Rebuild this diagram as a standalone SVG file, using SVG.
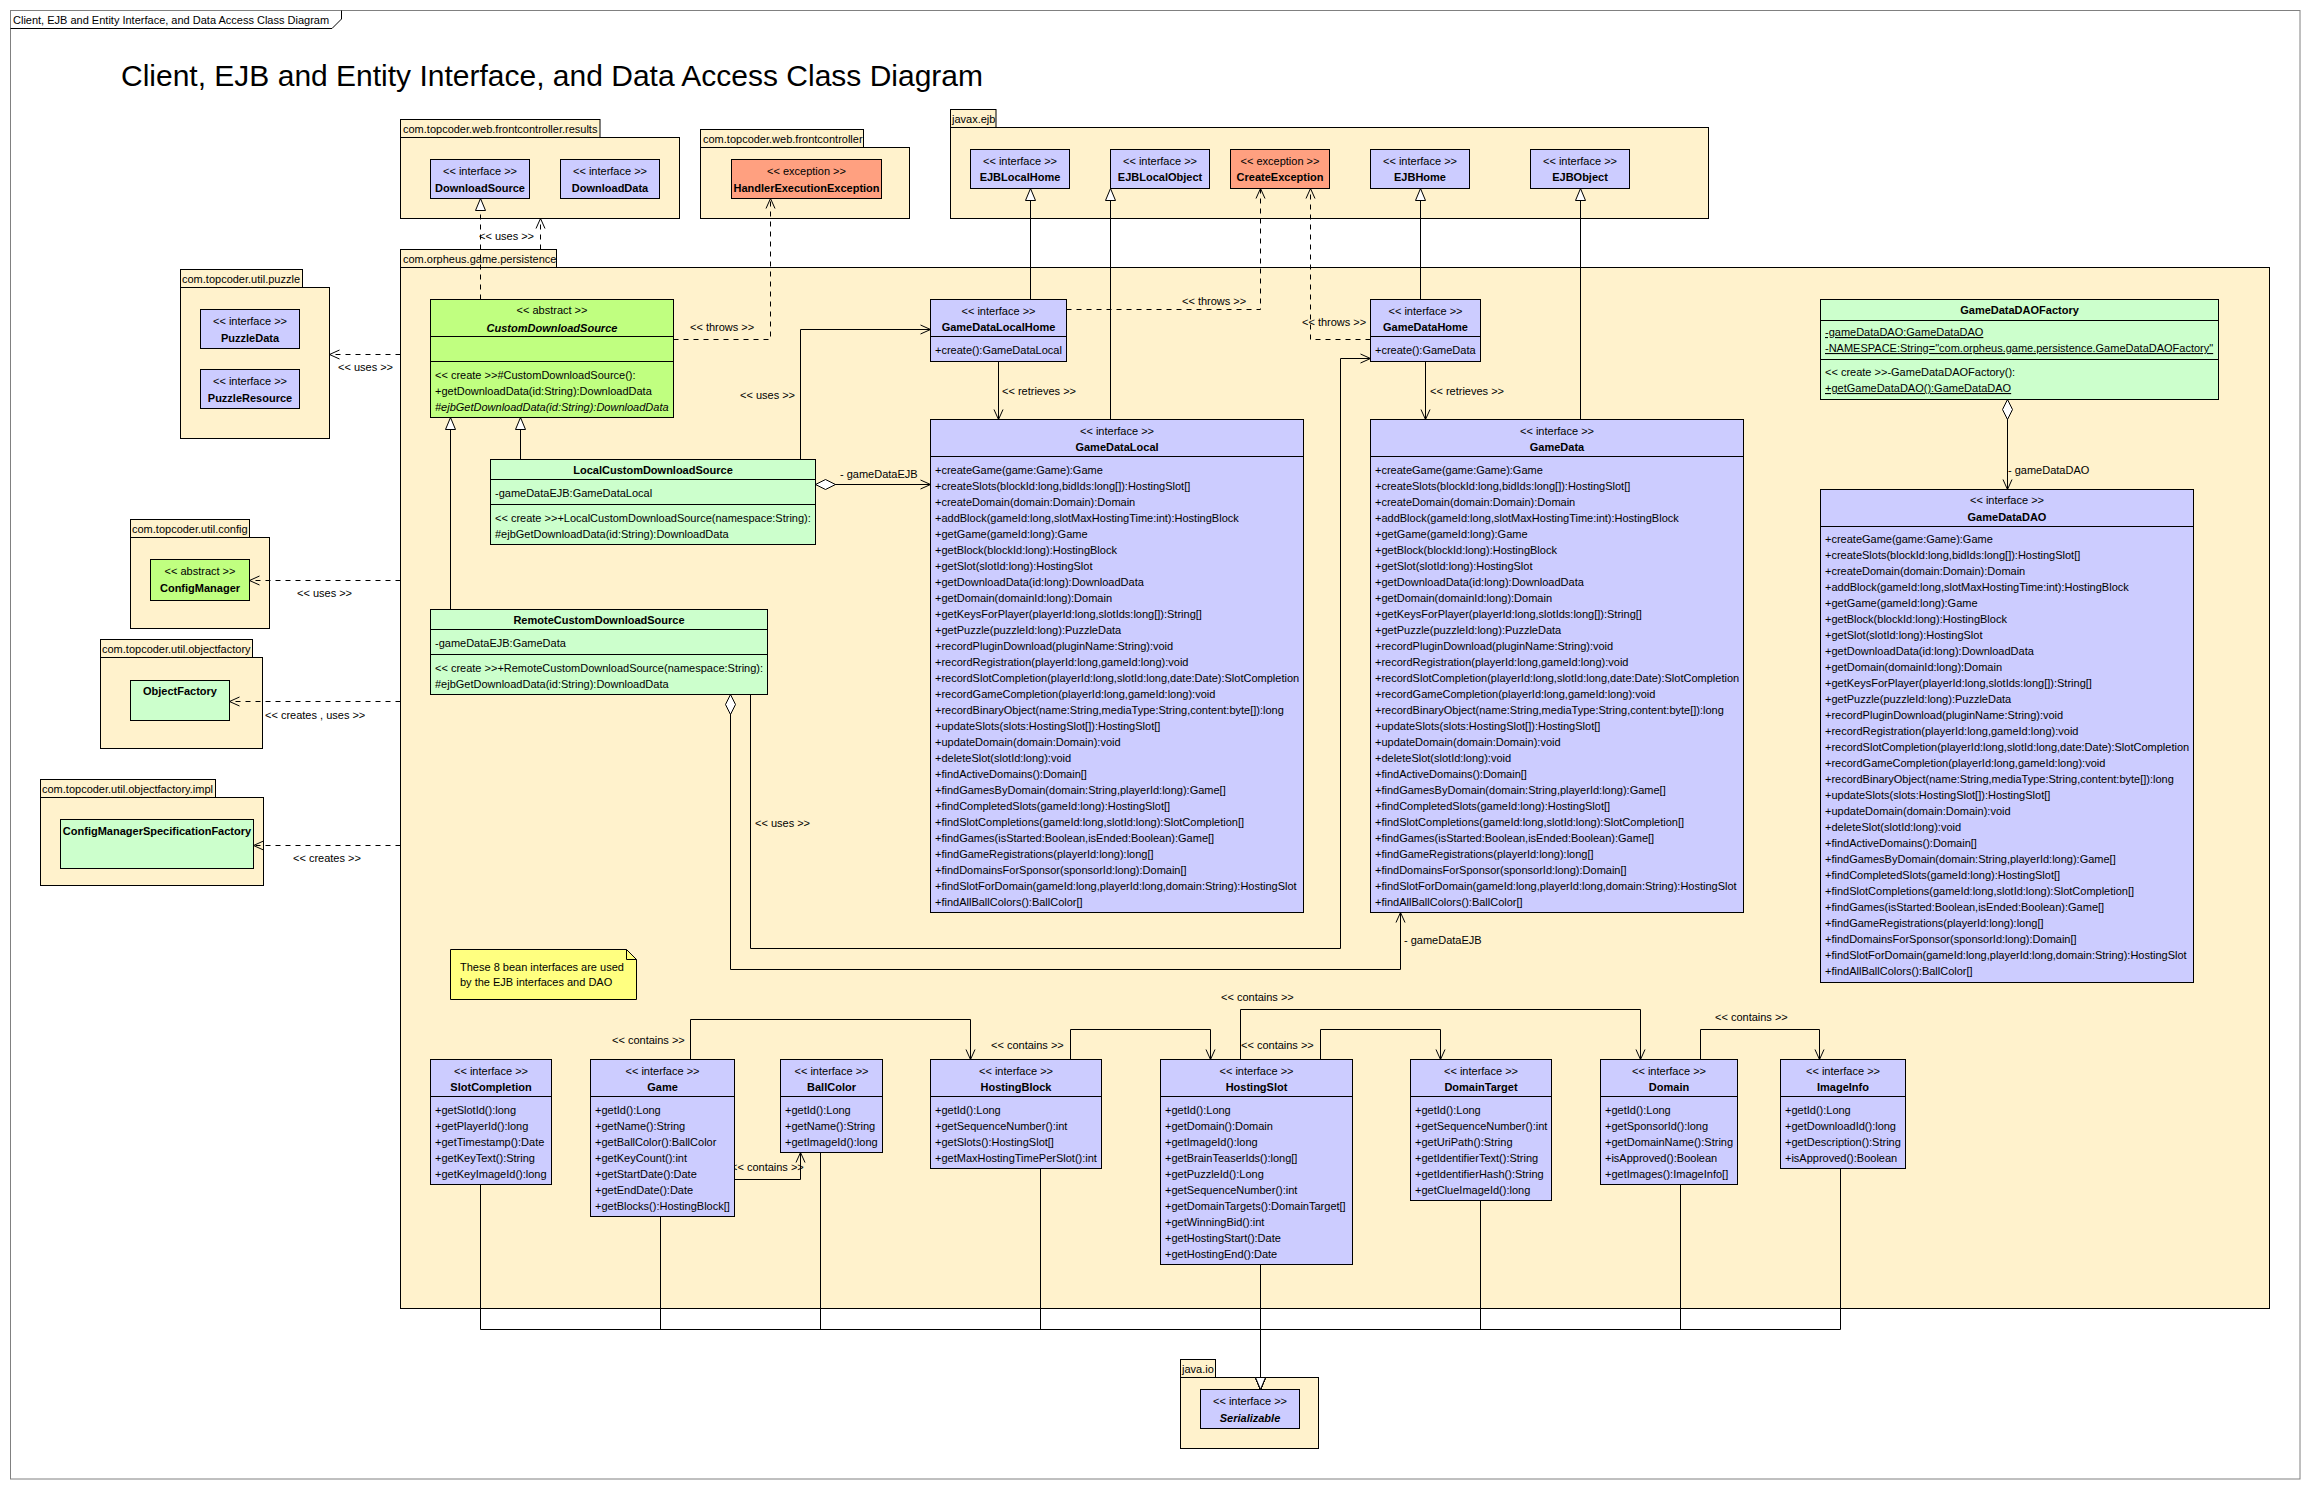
<svg xmlns="http://www.w3.org/2000/svg" width="2310" height="1489" viewBox="0 0 2310 1489">
<defs>
<style>
.pkg{fill:#FFF2CC;stroke:#000;stroke-width:1}
.if{fill:#CCCCFF;stroke:#000;stroke-width:1}
.ab{fill:#C0FF80;stroke:#000;stroke-width:1}
.cl{fill:#CCFFCC;stroke:#000;stroke-width:1}
.ex{fill:#FFA080;stroke:#000;stroke-width:1}
.nt{fill:#FFFF80;stroke:#000;stroke-width:1}
.dv{stroke:#000;stroke-width:1;fill:none}
text{font-family:"Liberation Sans",Arial,Helvetica,sans-serif;font-size:11px;fill:#000}
.c{text-anchor:middle}
.b{font-weight:bold}
.i{font-style:italic}
.u{text-decoration:underline}
.ttl{font-size:29px}
.ln{fill:none;stroke:#000;stroke-width:1}
.dsh{stroke-dasharray:5 5}
.op{marker-end:url(#open)}
.gen{marker-end:url(#tri)}
.agg{marker-start:url(#dia)}
</style>
<marker id="open" markerWidth="12" markerHeight="12" refX="11" refY="6" orient="auto" markerUnits="userSpaceOnUse"><path d="M1,1.5 L11,6 L1,10.5" fill="none" stroke="#000" stroke-width="1"/></marker>
<marker id="tri" markerWidth="14" markerHeight="12" refX="13" refY="6" orient="auto" markerUnits="userSpaceOnUse"><path d="M1,1 L13,6 L1,11 Z" fill="#fff" stroke="#000" stroke-width="1"/></marker>
<marker id="dia" markerWidth="22" markerHeight="12" refX="1" refY="6" orient="auto" markerUnits="userSpaceOnUse"><path d="M1,6 L11,1 L21,6 L11,11 Z" fill="#fff" stroke="#000" stroke-width="1"/></marker>
</defs>
<rect x="0" y="0" width="2310" height="1489" fill="#fff"/>
<g id="frame">
<rect x="10.5" y="10.5" width="2289.5" height="1468.5" fill="none" stroke="#808080" stroke-width="1"/>
<path d="M10.5,28.5 H332 L341.5,19 V10.5" fill="none" stroke="#000" stroke-width="1"/>
<text x="13" y="24">Client, EJB and Entity Interface, and Data Access Class Diagram</text>
<text class="ttl" x="121" y="86" textLength="862" lengthAdjust="spacingAndGlyphs">Client, EJB and Entity Interface, and Data Access Class Diagram</text>
</g>
<g id="packages">
<g id="pkg-results"><rect class="pkg" x="400.5" y="119.5" width="199.5" height="18"/><rect class="pkg" x="400.5" y="137.5" width="279" height="81"/><text x="403" y="133">com.topcoder.web.frontcontroller.results</text></g>
<g id="pkg-frontcontroller"><rect class="pkg" x="700.5" y="129.5" width="163" height="18"/><rect class="pkg" x="700.5" y="147.5" width="209" height="71"/><text x="703" y="143">com.topcoder.web.frontcontroller</text></g>
<g id="pkg-ejb"><rect class="pkg" x="950.5" y="109.5" width="45.5" height="18"/><rect class="pkg" x="950.5" y="127.5" width="758" height="91"/><text x="952" y="123">javax.ejb</text></g>
<g id="pkg-persistence"><rect class="pkg" x="400.5" y="249.5" width="156" height="18"/><rect class="pkg" x="400.5" y="267.5" width="1869" height="1041"/><text x="403" y="263">com.orpheus.game.persistence</text></g>
<g id="pkg-puzzle"><rect class="pkg" x="180.5" y="269.5" width="122" height="18"/><rect class="pkg" x="180.5" y="287.5" width="149" height="151"/><text x="182" y="283">com.topcoder.util.puzzle</text></g>
<g id="pkg-config"><rect class="pkg" x="130.5" y="519.5" width="119" height="18"/><rect class="pkg" x="130.5" y="537.5" width="139" height="91"/><text x="132" y="533">com.topcoder.util.config</text></g>
<g id="pkg-objectfactory"><rect class="pkg" x="100.5" y="639.5" width="152" height="18"/><rect class="pkg" x="100.5" y="657.5" width="162" height="91"/><text x="102" y="653">com.topcoder.util.objectfactory</text></g>
<g id="pkg-impl"><rect class="pkg" x="40.5" y="779.5" width="175" height="18"/><rect class="pkg" x="40.5" y="797.5" width="223" height="88"/><text x="42" y="793">com.topcoder.util.objectfactory.impl</text></g>
<g id="pkg-javaio"><rect class="pkg" x="1180.5" y="1359.5" width="35" height="18"/><rect class="pkg" x="1180.5" y="1377.5" width="138" height="71"/><text x="1182" y="1373">java.io</text></g>
</g>
<g id="connectors">
<path class="ln dsh gen" d="M480.5,299.5 V198.5"/>
<path class="ln dsh op" d="M540.5,249.5 V218.5"/>
<text x="479" y="240">&lt;&lt; uses &gt;&gt;</text>
<path class="ln dsh op" d="M673.5,339.5 H770.5 V198.5"/>
<text x="690" y="331">&lt;&lt; throws &gt;&gt;</text>
<path class="ln dsh op" d="M400.5,354.5 H329.5"/>
<text x="338" y="371">&lt;&lt; uses &gt;&gt;</text>
<path class="ln dsh op" d="M400.5,580.5 H249.5"/>
<text x="297" y="597">&lt;&lt; uses &gt;&gt;</text>
<path class="ln dsh op" d="M400.5,701.5 H229.5"/>
<text x="265" y="719">&lt;&lt; creates , uses &gt;&gt;</text>
<path class="ln dsh op" d="M400.5,845.5 H253.5"/>
<text x="293" y="862">&lt;&lt; creates &gt;&gt;</text>
<path class="ln gen" d="M520.5,459.5 V417.5"/>
<path class="ln gen" d="M450.5,609.5 V417.5"/>
<path class="ln op" d="M800.5,459.5 V329.5 H930.5"/>
<text x="740" y="399">&lt;&lt; uses &gt;&gt;</text>
<path class="ln agg op" d="M815.5,484.5 H930.5"/>
<text x="840" y="478">- gameDataEJB</text>
<path class="ln op" d="M750.5,694.5 V948.5 H1340.5 V358.5 H1370.5"/>
<text x="755" y="827">&lt;&lt; uses &gt;&gt;</text>
<path class="ln agg op" d="M730.5,694.5 V969.5 H1400.5 V912.5"/>
<text x="1404" y="944">- gameDataEJB</text>
<path class="ln gen" d="M1030.5,299.5 V188.5"/>
<path class="ln gen" d="M1110.5,419.5 V188.5"/>
<path class="ln gen" d="M1420.5,299.5 V188.5"/>
<path class="ln gen" d="M1580.5,419.5 V188.5"/>
<path class="ln dsh op" d="M1066.5,309.5 H1260.5 V188.5"/>
<text x="1182" y="305">&lt;&lt; throws &gt;&gt;</text>
<path class="ln dsh op" d="M1370.5,339.5 H1310.5 V188.5"/>
<text x="1302" y="326">&lt;&lt; throws &gt;&gt;</text>
<path class="ln op" d="M998.5,361.5 V419.5"/>
<text x="1002" y="395">&lt;&lt; retrieves &gt;&gt;</text>
<path class="ln op" d="M1425.5,361.5 V419.5"/>
<text x="1430" y="395">&lt;&lt; retrieves &gt;&gt;</text>
<path class="ln agg op" d="M2007.5,399.5 V489.5"/>
<text x="2008" y="474">- gameDataDAO</text>
<path class="ln op" d="M734.5,1179.5 H800.5 V1152.5"/>
<text x="731" y="1171">&lt;&lt; contains &gt;&gt;</text>
<path class="ln op" d="M690.5,1059.5 V1019.5 H970.5 V1059.5"/>
<text x="612" y="1044">&lt;&lt; contains &gt;&gt;</text>
<path class="ln op" d="M1070.5,1059.5 V1029.5 H1210.5 V1059.5"/>
<text x="991" y="1049">&lt;&lt; contains &gt;&gt;</text>
<path class="ln op" d="M1320.5,1059.5 V1029.5 H1440.5 V1059.5"/>
<text x="1241" y="1049">&lt;&lt; contains &gt;&gt;</text>
<path class="ln op" d="M1240.5,1059.5 V1009.5 H1640.5 V1059.5"/>
<text x="1221" y="1001">&lt;&lt; contains &gt;&gt;</text>
<path class="ln op" d="M1700.5,1059.5 V1029.5 H1819.5 V1059.5"/>
<text x="1715" y="1021">&lt;&lt; contains &gt;&gt;</text>
<path class="ln gen" d="M480.5,1184.5 V1329.5 H1260.5 V1389.5"/>
<path class="ln gen" d="M660.5,1216.5 V1329.5 H1260.5 V1389.5"/>
<path class="ln gen" d="M820.5,1152.5 V1329.5 H1260.5 V1389.5"/>
<path class="ln gen" d="M1040.5,1168.5 V1329.5 H1260.5 V1389.5"/>
<path class="ln gen" d="M1260.5,1264.5 V1389.5"/>
<path class="ln gen" d="M1480.5,1200.5 V1329.5 H1260.5 V1389.5"/>
<path class="ln gen" d="M1680.5,1184.5 V1329.5 H1260.5 V1389.5"/>
<path class="ln gen" d="M1840.5,1168.5 V1329.5 H1260.5 V1389.5"/>
</g>
<g id="DownloadSource"><rect class="if" x="430.5" y="159.5" width="99" height="39"/><text class="c" x="480" y="174.5">&lt;&lt; interface &gt;&gt;</text><text class="c b" x="480" y="191.5">DownloadSource</text></g>
<g id="DownloadData"><rect class="if" x="560.5" y="159.5" width="99" height="39"/><text class="c" x="610" y="174.5">&lt;&lt; interface &gt;&gt;</text><text class="c b" x="610" y="191.5">DownloadData</text></g>
<g id="HandlerExecutionException"><rect class="ex" x="731.5" y="159.5" width="150" height="39"/><text class="c" x="806.5" y="174.5">&lt;&lt; exception &gt;&gt;</text><text class="c b" x="806.5" y="191.5">HandlerExecutionException</text></g>
<g id="EJBLocalHome"><rect class="if" x="970.5" y="149.5" width="99" height="39"/><text class="c" x="1020" y="164.5">&lt;&lt; interface &gt;&gt;</text><text class="c b" x="1020" y="181">EJBLocalHome</text></g>
<g id="EJBLocalObject"><rect class="if" x="1110.5" y="149.5" width="99" height="39"/><text class="c" x="1160" y="164.5">&lt;&lt; interface &gt;&gt;</text><text class="c b" x="1160" y="181">EJBLocalObject</text></g>
<g id="CreateException"><rect class="ex" x="1230.5" y="149.5" width="99" height="39"/><text class="c" x="1280" y="164.5">&lt;&lt; exception &gt;&gt;</text><text class="c b" x="1280" y="181">CreateException</text></g>
<g id="EJBHome"><rect class="if" x="1370.5" y="149.5" width="99" height="39"/><text class="c" x="1420" y="164.5">&lt;&lt; interface &gt;&gt;</text><text class="c b" x="1420" y="181">EJBHome</text></g>
<g id="EJBObject"><rect class="if" x="1530.5" y="149.5" width="99" height="39"/><text class="c" x="1580" y="164.5">&lt;&lt; interface &gt;&gt;</text><text class="c b" x="1580" y="181">EJBObject</text></g>
<g id="PuzzleData"><rect class="if" x="200.5" y="309.5" width="99" height="39"/><text class="c" x="250" y="324.5">&lt;&lt; interface &gt;&gt;</text><text class="c b" x="250" y="341.5">PuzzleData</text></g>
<g id="PuzzleResource"><rect class="if" x="200.5" y="369.5" width="99" height="39"/><text class="c" x="250" y="384.5">&lt;&lt; interface &gt;&gt;</text><text class="c b" x="250" y="401.5">PuzzleResource</text></g>
<g id="ConfigManager"><rect class="ab" x="150.5" y="559.5" width="99" height="41"/><text class="c" x="200" y="574.5">&lt;&lt; abstract &gt;&gt;</text><text class="c b" x="200" y="591.5">ConfigManager</text></g>
<g id="ObjectFactory"><rect class="cl" x="130.5" y="680.5" width="99" height="40"/><text class="c b" x="180" y="694.5">ObjectFactory</text></g>
<g id="ConfigManagerSpecificationFactory"><rect class="cl" x="60.5" y="819.5" width="193" height="49"/><text class="c b" x="157" y="834.5">ConfigManagerSpecificationFactory</text></g>
<g id="CustomDownloadSource"><rect class="ab" x="430.5" y="299.5" width="243" height="118"/><path class="dv" d="M430.5,336.5 H673.5 M430.5,361.5 H673.5"/><text class="c" x="552" y="314">&lt;&lt; abstract &gt;&gt;</text><text class="c b i" x="552" y="331.5">CustomDownloadSource</text><text x="435" y="378.5">&lt;&lt; create &gt;&gt;#CustomDownloadSource():</text><text x="435" y="394.5">+getDownloadData(id:String):DownloadData</text><text class="i" x="435" y="410.5">#ejbGetDownloadData(id:String):DownloadData</text></g>
<g id="LocalCustomDownloadSource"><rect class="cl" x="490.5" y="459.5" width="325" height="85"/><path class="dv" d="M490.5,479.5 H815.5 M490.5,504.5 H815.5"/><text class="c b" x="653" y="474">LocalCustomDownloadSource</text><text x="495" y="496.5">-gameDataEJB:GameDataLocal</text><text x="495" y="521.5">&lt;&lt; create &gt;&gt;+LocalCustomDownloadSource(namespace:String):</text><text x="495" y="537.5">#ejbGetDownloadData(id:String):DownloadData</text></g>
<g id="RemoteCustomDownloadSource"><rect class="cl" x="430.5" y="609.5" width="337" height="85"/><path class="dv" d="M430.5,629.5 H767.5 M430.5,654.5 H767.5"/><text class="c b" x="599" y="624">RemoteCustomDownloadSource</text><text x="435" y="646.5">-gameDataEJB:GameData</text><text x="435" y="671.5">&lt;&lt; create &gt;&gt;+RemoteCustomDownloadSource(namespace:String):</text><text x="435" y="687.5">#ejbGetDownloadData(id:String):DownloadData</text></g>
<g id="GameDataLocalHome"><rect class="if" x="930.5" y="299.5" width="136" height="62"/><path class="dv" d="M930.5,336.5 H1066.5"/><text class="c" x="998.5" y="314.5">&lt;&lt; interface &gt;&gt;</text><text class="c b" x="998.5" y="331">GameDataLocalHome</text><text x="935" y="353.5">+create():GameDataLocal</text></g>
<g id="GameDataHome"><rect class="if" x="1370.5" y="299.5" width="110" height="62"/><path class="dv" d="M1370.5,336.5 H1480.5"/><text class="c" x="1425.5" y="314.5">&lt;&lt; interface &gt;&gt;</text><text class="c b" x="1425.5" y="331">GameDataHome</text><text x="1375" y="353.5">+create():GameData</text></g>
<g id="GameDataLocal"><rect class="if" x="930.5" y="419.5" width="373" height="493"/><path class="dv" d="M930.5,456.5 H1303.5"/><text class="c" x="1117" y="434.5">&lt;&lt; interface &gt;&gt;</text><text class="c b" x="1117" y="451">GameDataLocal</text>
<text x="935" y="473.5"><tspan x="935">+createGame(game:Game):Game</tspan><tspan x="935" dy="16">+createSlots(blockId:long,bidIds:long[]):HostingSlot[]</tspan><tspan x="935" dy="16">+createDomain(domain:Domain):Domain</tspan><tspan x="935" dy="16">+addBlock(gameId:long,slotMaxHostingTime:int):HostingBlock</tspan><tspan x="935" dy="16">+getGame(gameId:long):Game</tspan><tspan x="935" dy="16">+getBlock(blockId:long):HostingBlock</tspan><tspan x="935" dy="16">+getSlot(slotId:long):HostingSlot</tspan><tspan x="935" dy="16">+getDownloadData(id:long):DownloadData</tspan><tspan x="935" dy="16">+getDomain(domainId:long):Domain</tspan><tspan x="935" dy="16">+getKeysForPlayer(playerId:long,slotIds:long[]):String[]</tspan><tspan x="935" dy="16">+getPuzzle(puzzleId:long):PuzzleData</tspan><tspan x="935" dy="16">+recordPluginDownload(pluginName:String):void</tspan><tspan x="935" dy="16">+recordRegistration(playerId:long,gameId:long):void</tspan><tspan x="935" dy="16">+recordSlotCompletion(playerId:long,slotId:long,date:Date):SlotCompletion</tspan><tspan x="935" dy="16">+recordGameCompletion(playerId:long,gameId:long):void</tspan><tspan x="935" dy="16">+recordBinaryObject(name:String,mediaType:String,content:byte[]):long</tspan><tspan x="935" dy="16">+updateSlots(slots:HostingSlot[]):HostingSlot[]</tspan><tspan x="935" dy="16">+updateDomain(domain:Domain):void</tspan><tspan x="935" dy="16">+deleteSlot(slotId:long):void</tspan><tspan x="935" dy="16">+findActiveDomains():Domain[]</tspan><tspan x="935" dy="16">+findGamesByDomain(domain:String,playerId:long):Game[]</tspan><tspan x="935" dy="16">+findCompletedSlots(gameId:long):HostingSlot[]</tspan><tspan x="935" dy="16">+findSlotCompletions(gameId:long,slotId:long):SlotCompletion[]</tspan><tspan x="935" dy="16">+findGames(isStarted:Boolean,isEnded:Boolean):Game[]</tspan><tspan x="935" dy="16">+findGameRegistrations(playerId:long):long[]</tspan><tspan x="935" dy="16">+findDomainsForSponsor(sponsorId:long):Domain[]</tspan><tspan x="935" dy="16">+findSlotForDomain(gameId:long,playerId:long,domain:String):HostingSlot</tspan><tspan x="935" dy="16">+findAllBallColors():BallColor[]</tspan></text></g>
<g id="GameData"><rect class="if" x="1370.5" y="419.5" width="373" height="493"/><path class="dv" d="M1370.5,456.5 H1743.5"/><text class="c" x="1557" y="434.5">&lt;&lt; interface &gt;&gt;</text><text class="c b" x="1557" y="451">GameData</text>
<text x="1375" y="473.5"><tspan x="1375">+createGame(game:Game):Game</tspan><tspan x="1375" dy="16">+createSlots(blockId:long,bidIds:long[]):HostingSlot[]</tspan><tspan x="1375" dy="16">+createDomain(domain:Domain):Domain</tspan><tspan x="1375" dy="16">+addBlock(gameId:long,slotMaxHostingTime:int):HostingBlock</tspan><tspan x="1375" dy="16">+getGame(gameId:long):Game</tspan><tspan x="1375" dy="16">+getBlock(blockId:long):HostingBlock</tspan><tspan x="1375" dy="16">+getSlot(slotId:long):HostingSlot</tspan><tspan x="1375" dy="16">+getDownloadData(id:long):DownloadData</tspan><tspan x="1375" dy="16">+getDomain(domainId:long):Domain</tspan><tspan x="1375" dy="16">+getKeysForPlayer(playerId:long,slotIds:long[]):String[]</tspan><tspan x="1375" dy="16">+getPuzzle(puzzleId:long):PuzzleData</tspan><tspan x="1375" dy="16">+recordPluginDownload(pluginName:String):void</tspan><tspan x="1375" dy="16">+recordRegistration(playerId:long,gameId:long):void</tspan><tspan x="1375" dy="16">+recordSlotCompletion(playerId:long,slotId:long,date:Date):SlotCompletion</tspan><tspan x="1375" dy="16">+recordGameCompletion(playerId:long,gameId:long):void</tspan><tspan x="1375" dy="16">+recordBinaryObject(name:String,mediaType:String,content:byte[]):long</tspan><tspan x="1375" dy="16">+updateSlots(slots:HostingSlot[]):HostingSlot[]</tspan><tspan x="1375" dy="16">+updateDomain(domain:Domain):void</tspan><tspan x="1375" dy="16">+deleteSlot(slotId:long):void</tspan><tspan x="1375" dy="16">+findActiveDomains():Domain[]</tspan><tspan x="1375" dy="16">+findGamesByDomain(domain:String,playerId:long):Game[]</tspan><tspan x="1375" dy="16">+findCompletedSlots(gameId:long):HostingSlot[]</tspan><tspan x="1375" dy="16">+findSlotCompletions(gameId:long,slotId:long):SlotCompletion[]</tspan><tspan x="1375" dy="16">+findGames(isStarted:Boolean,isEnded:Boolean):Game[]</tspan><tspan x="1375" dy="16">+findGameRegistrations(playerId:long):long[]</tspan><tspan x="1375" dy="16">+findDomainsForSponsor(sponsorId:long):Domain[]</tspan><tspan x="1375" dy="16">+findSlotForDomain(gameId:long,playerId:long,domain:String):HostingSlot</tspan><tspan x="1375" dy="16">+findAllBallColors():BallColor[]</tspan></text></g>
<g id="GameDataDAOFactory"><rect class="cl" x="1820.5" y="299.5" width="398" height="100"/><path class="dv" d="M1820.5,320.5 H2218.5 M1820.5,359.5 H2218.5"/><text class="c b" x="2019.5" y="314">GameDataDAOFactory</text><text class="u" x="1825" y="336">-gameDataDAO:GameDataDAO</text><text class="u" x="1825" y="352">-NAMESPACE:String="com.orpheus.game.persistence.GameDataDAOFactory"</text><text x="1825" y="376">&lt;&lt; create &gt;&gt;-GameDataDAOFactory():</text><text class="u" x="1825" y="392">+getGameDataDAO():GameDataDAO</text></g>
<g id="GameDataDAO"><rect class="if" x="1820.5" y="489.5" width="373" height="493"/><path class="dv" d="M1820.5,526.5 H2193.5"/><text class="c" x="2007" y="504">&lt;&lt; interface &gt;&gt;</text><text class="c b" x="2007" y="521">GameDataDAO</text>
<text x="1825" y="543"><tspan x="1825">+createGame(game:Game):Game</tspan><tspan x="1825" dy="16">+createSlots(blockId:long,bidIds:long[]):HostingSlot[]</tspan><tspan x="1825" dy="16">+createDomain(domain:Domain):Domain</tspan><tspan x="1825" dy="16">+addBlock(gameId:long,slotMaxHostingTime:int):HostingBlock</tspan><tspan x="1825" dy="16">+getGame(gameId:long):Game</tspan><tspan x="1825" dy="16">+getBlock(blockId:long):HostingBlock</tspan><tspan x="1825" dy="16">+getSlot(slotId:long):HostingSlot</tspan><tspan x="1825" dy="16">+getDownloadData(id:long):DownloadData</tspan><tspan x="1825" dy="16">+getDomain(domainId:long):Domain</tspan><tspan x="1825" dy="16">+getKeysForPlayer(playerId:long,slotIds:long[]):String[]</tspan><tspan x="1825" dy="16">+getPuzzle(puzzleId:long):PuzzleData</tspan><tspan x="1825" dy="16">+recordPluginDownload(pluginName:String):void</tspan><tspan x="1825" dy="16">+recordRegistration(playerId:long,gameId:long):void</tspan><tspan x="1825" dy="16">+recordSlotCompletion(playerId:long,slotId:long,date:Date):SlotCompletion</tspan><tspan x="1825" dy="16">+recordGameCompletion(playerId:long,gameId:long):void</tspan><tspan x="1825" dy="16">+recordBinaryObject(name:String,mediaType:String,content:byte[]):long</tspan><tspan x="1825" dy="16">+updateSlots(slots:HostingSlot[]):HostingSlot[]</tspan><tspan x="1825" dy="16">+updateDomain(domain:Domain):void</tspan><tspan x="1825" dy="16">+deleteSlot(slotId:long):void</tspan><tspan x="1825" dy="16">+findActiveDomains():Domain[]</tspan><tspan x="1825" dy="16">+findGamesByDomain(domain:String,playerId:long):Game[]</tspan><tspan x="1825" dy="16">+findCompletedSlots(gameId:long):HostingSlot[]</tspan><tspan x="1825" dy="16">+findSlotCompletions(gameId:long,slotId:long):SlotCompletion[]</tspan><tspan x="1825" dy="16">+findGames(isStarted:Boolean,isEnded:Boolean):Game[]</tspan><tspan x="1825" dy="16">+findGameRegistrations(playerId:long):long[]</tspan><tspan x="1825" dy="16">+findDomainsForSponsor(sponsorId:long):Domain[]</tspan><tspan x="1825" dy="16">+findSlotForDomain(gameId:long,playerId:long,domain:String):HostingSlot</tspan><tspan x="1825" dy="16">+findAllBallColors():BallColor[]</tspan></text></g>
<g id="note"><path class="nt" d="M450.5,949.5 H626.5 L636.5,959.5 V999.5 H450.5 Z"/><path class="dv" d="M626.5,949.5 V959.5 H636.5"/><text x="460" y="971">These 8 bean interfaces are used</text><text x="460" y="986">by the EJB interfaces and DAO</text></g>
<g id="SlotCompletion"><rect class="if" x="430.5" y="1059.5" width="121" height="125"/><path class="dv" d="M430.5,1096.5 H551.5"/><text class="c" x="491" y="1074.5">&lt;&lt; interface &gt;&gt;</text><text class="c b" x="491" y="1091">SlotCompletion</text><text x="435" y="1113.5"><tspan x="435">+getSlotId():long</tspan><tspan x="435" dy="16">+getPlayerId():long</tspan><tspan x="435" dy="16">+getTimestamp():Date</tspan><tspan x="435" dy="16">+getKeyText():String</tspan><tspan x="435" dy="16">+getKeyImageId():long</tspan></text></g>
<g id="Game"><rect class="if" x="590.5" y="1059.5" width="144" height="157"/><path class="dv" d="M590.5,1096.5 H734.5"/><text class="c" x="662.5" y="1074.5">&lt;&lt; interface &gt;&gt;</text><text class="c b" x="662.5" y="1091">Game</text><text x="595" y="1113.5"><tspan x="595">+getId():Long</tspan><tspan x="595" dy="16">+getName():String</tspan><tspan x="595" dy="16">+getBallColor():BallColor</tspan><tspan x="595" dy="16">+getKeyCount():int</tspan><tspan x="595" dy="16">+getStartDate():Date</tspan><tspan x="595" dy="16">+getEndDate():Date</tspan><tspan x="595" dy="16">+getBlocks():HostingBlock[]</tspan></text></g>
<g id="BallColor"><rect class="if" x="780.5" y="1059.5" width="102" height="93"/><path class="dv" d="M780.5,1096.5 H882.5"/><text class="c" x="831.5" y="1074.5">&lt;&lt; interface &gt;&gt;</text><text class="c b" x="831.5" y="1091">BallColor</text><text x="785" y="1113.5"><tspan x="785">+getId():Long</tspan><tspan x="785" dy="16">+getName():String</tspan><tspan x="785" dy="16">+getImageId():long</tspan></text></g>
<g id="HostingBlock"><rect class="if" x="930.5" y="1059.5" width="171" height="109"/><path class="dv" d="M930.5,1096.5 H1101.5"/><text class="c" x="1016" y="1074.5">&lt;&lt; interface &gt;&gt;</text><text class="c b" x="1016" y="1091">HostingBlock</text><text x="935" y="1113.5"><tspan x="935">+getId():Long</tspan><tspan x="935" dy="16">+getSequenceNumber():int</tspan><tspan x="935" dy="16">+getSlots():HostingSlot[]</tspan><tspan x="935" dy="16">+getMaxHostingTimePerSlot():int</tspan></text></g>
<g id="HostingSlot"><rect class="if" x="1160.5" y="1059.5" width="192" height="205"/><path class="dv" d="M1160.5,1096.5 H1352.5"/><text class="c" x="1256.5" y="1074.5">&lt;&lt; interface &gt;&gt;</text><text class="c b" x="1256.5" y="1091">HostingSlot</text><text x="1165" y="1113.5"><tspan x="1165">+getId():Long</tspan><tspan x="1165" dy="16">+getDomain():Domain</tspan><tspan x="1165" dy="16">+getImageId():long</tspan><tspan x="1165" dy="16">+getBrainTeaserIds():long[]</tspan><tspan x="1165" dy="16">+getPuzzleId():Long</tspan><tspan x="1165" dy="16">+getSequenceNumber():int</tspan><tspan x="1165" dy="16">+getDomainTargets():DomainTarget[]</tspan><tspan x="1165" dy="16">+getWinningBid():int</tspan><tspan x="1165" dy="16">+getHostingStart():Date</tspan><tspan x="1165" dy="16">+getHostingEnd():Date</tspan></text></g>
<g id="DomainTarget"><rect class="if" x="1410.5" y="1059.5" width="141" height="141"/><path class="dv" d="M1410.5,1096.5 H1551.5"/><text class="c" x="1481" y="1074.5">&lt;&lt; interface &gt;&gt;</text><text class="c b" x="1481" y="1091">DomainTarget</text><text x="1415" y="1113.5"><tspan x="1415">+getId():Long</tspan><tspan x="1415" dy="16">+getSequenceNumber():int</tspan><tspan x="1415" dy="16">+getUriPath():String</tspan><tspan x="1415" dy="16">+getIdentifierText():String</tspan><tspan x="1415" dy="16">+getIdentifierHash():String</tspan><tspan x="1415" dy="16">+getClueImageId():long</tspan></text></g>
<g id="Domain"><rect class="if" x="1600.5" y="1059.5" width="137" height="125"/><path class="dv" d="M1600.5,1096.5 H1737.5"/><text class="c" x="1669" y="1074.5">&lt;&lt; interface &gt;&gt;</text><text class="c b" x="1669" y="1091">Domain</text><text x="1605" y="1113.5"><tspan x="1605">+getId():Long</tspan><tspan x="1605" dy="16">+getSponsorId():long</tspan><tspan x="1605" dy="16">+getDomainName():String</tspan><tspan x="1605" dy="16">+isApproved():Boolean</tspan><tspan x="1605" dy="16">+getImages():ImageInfo[]</tspan></text></g>
<g id="ImageInfo"><rect class="if" x="1780.5" y="1059.5" width="125" height="109"/><path class="dv" d="M1780.5,1096.5 H1905.5"/><text class="c" x="1843" y="1074.5">&lt;&lt; interface &gt;&gt;</text><text class="c b" x="1843" y="1091">ImageInfo</text><text x="1785" y="1113.5"><tspan x="1785">+getId():Long</tspan><tspan x="1785" dy="16">+getDownloadId():long</tspan><tspan x="1785" dy="16">+getDescription():String</tspan><tspan x="1785" dy="16">+isApproved():Boolean</tspan></text></g>
<g id="Serializable"><rect class="if" x="1200.5" y="1389.5" width="99" height="39"/><text class="c" x="1250" y="1404.5">&lt;&lt; interface &gt;&gt;</text><text class="c b i" x="1250" y="1421.5">Serializable</text></g>
</svg>
